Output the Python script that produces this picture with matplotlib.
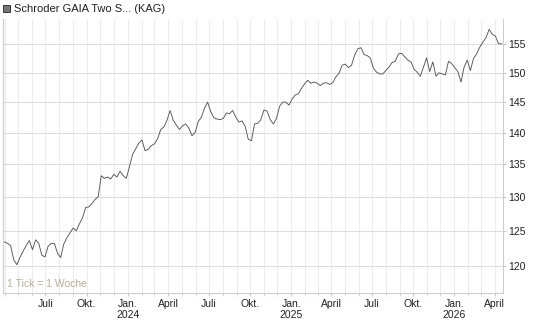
import numpy as np
import pandas as pd
import matplotlib
matplotlib.use("Agg")
import matplotlib.pyplot as plt
import matplotlib.dates as mdates
from matplotlib.patches import Rectangle
from matplotlib.ticker import NullLocator, FixedLocator

plt.rcParams['font.family'] = ['Liberation Sans', 'DejaVu Sans']

title = "Schroder GAIA Two S... (KAG)"
tick_note = "1 Tick = 1 Woche"

# weekly prices, first week ending 2023-03-31
start_date = "2023-03-31"
prices = [
    123.4, 123.2, 122.9, 120.9, 120.2, 121.2, 122.1, 122.9, 123.6, 122.3,
    123.7, 123.2, 121.5, 121.3, 122.8, 123.2, 123.2, 121.8, 121.2, 123.1,
    124.0, 124.7, 125.4, 125.0, 126.0, 126.9, 128.4, 128.5, 129.0, 129.6,
    130.0, 133.2, 132.8, 133.0, 132.7, 133.4, 133.0, 133.9, 133.2, 132.8,
    134.6, 136.5, 137.4, 138.3, 138.8, 137.1, 137.3, 137.9, 138.2, 139.0,
    140.5, 140.9, 142.0, 143.6, 142.0, 141.2, 140.5, 141.1, 141.4, 140.7,
    139.5, 140.0, 141.8, 142.5, 144.0, 145.0, 143.4, 142.4, 142.2, 142.1,
    142.3, 143.2, 143.1, 143.6, 142.5, 141.7, 141.9, 141.0, 138.9, 138.7,
    141.4, 141.5, 142.1, 143.7, 143.5, 142.1, 141.4, 142.3, 144.3, 145.0,
    145.0, 144.5, 145.5, 146.2, 146.4, 147.3, 148.1, 148.7, 148.2, 148.4,
    148.2, 147.8, 148.2, 148.3, 148.0, 148.3, 149.3, 149.9, 151.3, 151.5,
    150.9, 151.3, 153.1, 154.2, 154.4, 153.2, 153.0, 152.6, 150.8, 150.1,
    149.8, 149.8, 150.4, 151.0, 151.8, 152.0, 153.3, 153.4, 152.8, 152.2,
    151.9, 150.6, 150.1, 149.4, 151.0, 152.6, 150.2, 151.9, 149.4, 150.0,
    149.8, 149.6, 152.0, 151.6, 150.9, 150.2, 148.4, 151.0, 152.2, 150.4,
    152.5, 153.3, 154.5, 155.4, 156.2, 157.7, 156.8, 156.5, 155.1, 155.1,
]
dates = pd.date_range(start_date, periods=len(prices), freq="7D")

y_ticks = [120, 125, 130, 135, 140, 145, 150, 155]
x_tick_dates = ["2023-07-01", "2023-10-01", "2024-01-01", "2024-04-01",
                "2024-07-01", "2024-10-01", "2025-01-01", "2025-04-01",
                "2025-07-01", "2025-10-01", "2026-01-01", "2026-04-01"]
x_tick_labels = ["Juli", "Okt.", "Jan.\n2024", "April", "Juli", "Okt.",
                 "Jan.\n2025", "April", "Juli", "Okt.", "Jan.\n2026", "April"]

W, H = 545, 327
fig = plt.figure(figsize=(W / 100, H / 100), dpi=100)
ax = fig.add_axes([3 / W, 1 - 293.3 / H, 500 / W, 274.3 / H])

ax.plot(dates, prices, color="#555555", lw=0.65)

ax.set_yscale("log")
ax.set_ylim(116.3, 159.6)
ax.yaxis.set_major_locator(FixedLocator(y_ticks))
ax.yaxis.set_minor_locator(NullLocator())
ax.set_yticklabels([str(v) for v in y_ticks])
ax.yaxis.tick_right()

ax.set_xlim(pd.Timestamp("2023-03-28"), pd.Timestamp("2026-04-20"))
ax.set_xticks(pd.to_datetime(x_tick_dates))
ax.set_xticklabels(x_tick_labels)
ax.xaxis.set_minor_locator(mdates.MonthLocator())

ax.tick_params(axis="x", which="both", length=2, color="#cccccc",
               labelsize=7.5, labelcolor="#222222", pad=2)
ax.tick_params(axis="y", length=2, color="#cccccc", labelsize=7.5,
               labelcolor="#222222", pad=2)

ax.grid(True, axis="y", color="#dddddd", lw=0.8)
ax.grid(True, axis="x", which="both", color="#ececec", lw=0.8)
ax.set_axisbelow(True)

for s in ["left", "right", "bottom"]:
    ax.spines[s].set_color("#cccccc")
    ax.spines[s].set_linewidth(0.8)
ax.spines["top"].set_visible(False)

ax.text(0.008, 0.015, tick_note, transform=ax.transAxes, fontsize=7.5,
        color="#b8ad9a", ha="left", va="bottom")

fig.patches.append(Rectangle((3 / W, 1 - 12 / H), 7 / W, 7 / H,
                             transform=fig.transFigure, facecolor="#777777",
                             edgecolor="#222222", lw=0.6))
fig.text(14 / W, 1 - 8.5 / H, title, fontsize=8, color="#222222",
         ha="left", va="center")

fig.savefig("out.png", dpi=100)
